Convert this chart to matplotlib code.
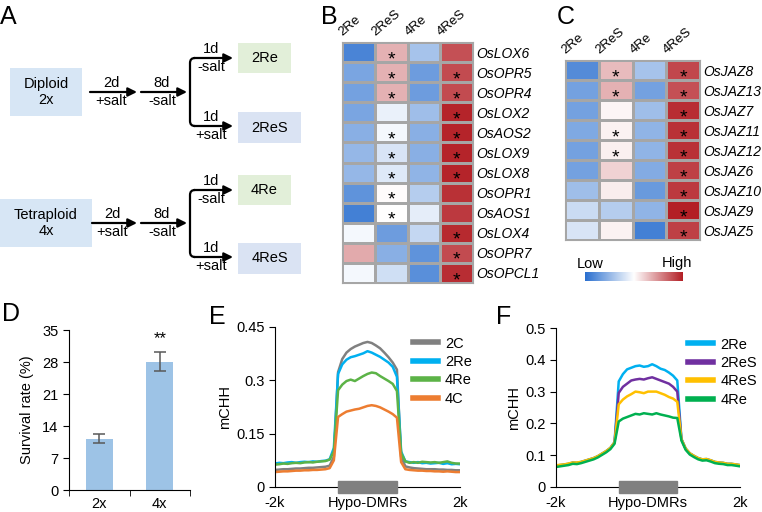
import numpy as np
import matplotlib
matplotlib.use('Agg')
import matplotlib.pyplot as plt
from matplotlib.colors import LinearSegmentedColormap
from matplotlib.patches import Rectangle, PathPatch
from matplotlib.path import Path
from matplotlib.lines import Line2D
import matplotlib.transforms as mtransforms

plt.rcParams['font.family'] = ['Liberation Sans', 'DejaVu Sans']
plt.rcParams['font.size'] = 10.5

W, H = 762, 512

# ---- data ----
conditions = ['2Re', '2ReS', '4Re', '4ReS']

genes_b = ['OsLOX6', 'OsOPR5', 'OsOPR4', 'OsLOX2', 'OsAOS2', 'OsLOX9',
           'OsLOX8', 'OsOPR1', 'OsAOS1', 'OsLOX4', 'OsOPR7', 'OsOPCL1']
expr_b = [[-0.85, 0.35, -0.42, 0.78],
          [-0.62, 0.35, -0.68, 0.80],
          [-0.65, 0.35, -0.68, 0.80],
          [-0.62, -0.10, -0.45, 0.97],
          [-0.55, -0.05, -0.55, 0.97],
          [-0.50, -0.18, -0.55, 0.97],
          [-0.50, -0.15, -0.52, 0.97],
          [-0.75, 0.02, -0.35, 0.92],
          [-0.88, 0.00, -0.12, 0.88],
          [-0.05, -0.68, -0.28, 0.95],
          [0.38, -0.55, -0.75, 0.80],
          [-0.05, -0.22, -0.78, 0.93]]
stars_b = [[0, 1, 0, 0], [0, 1, 0, 1], [0, 1, 0, 1], [0, 0, 0, 1],
           [0, 1, 0, 1], [0, 1, 0, 1], [0, 1, 0, 1], [0, 1, 0, 0],
           [0, 1, 0, 0], [0, 0, 0, 1], [0, 0, 0, 1], [0, 0, 0, 1]]

genes_c = ['OsJAZ8', 'OsJAZ13', 'OsJAZ7', 'OsJAZ11', 'OsJAZ12', 'OsJAZ6',
           'OsJAZ10', 'OsJAZ9', 'OsJAZ5']
expr_c = [[-0.80, 0.30, -0.42, 0.82],
          [-0.65, 0.35, -0.65, 0.78],
          [-0.65, 0.04, -0.45, 0.93],
          [-0.60, 0.06, -0.52, 0.92],
          [-0.65, 0.07, -0.52, 0.92],
          [-0.65, 0.20, -0.58, 0.85],
          [-0.45, 0.08, -0.70, 0.88],
          [-0.25, -0.35, -0.52, 1.00],
          [-0.18, 0.06, -0.88, 0.85]]
stars_c = [[0, 1, 0, 1], [0, 1, 0, 1], [0, 0, 0, 1], [0, 1, 0, 1],
           [0, 1, 0, 1], [0, 0, 0, 1], [0, 0, 0, 1], [0, 0, 0, 1],
           [0, 0, 0, 1]]

ploidy = ['2x', '4x']
survival = [11.2, 28.1]
survival_err = [1.0, 2.1]

# mCHH profiles: 15 bins upstream, 15 bins hypo-DMR body, 15 bins downstream
e_2C = [0.048, 0.049, 0.050, 0.050, 0.051, 0.052, 0.052, 0.053, 0.054, 0.054, 0.055, 0.056, 0.057, 0.060, 0.085,
        0.323, 0.360, 0.378, 0.388, 0.395, 0.400, 0.405, 0.408, 0.405, 0.398, 0.390, 0.378, 0.365, 0.350, 0.330,
        0.085, 0.058, 0.055, 0.053, 0.052, 0.051, 0.050, 0.050, 0.050, 0.049, 0.049, 0.048, 0.048, 0.047, 0.047]
e_2Re = [0.066, 0.068, 0.067, 0.069, 0.070, 0.068, 0.070, 0.071, 0.070, 0.072, 0.071, 0.073, 0.074, 0.078, 0.110,
         0.318, 0.345, 0.358, 0.365, 0.368, 0.372, 0.376, 0.382, 0.378, 0.372, 0.366, 0.358, 0.350, 0.338, 0.310,
         0.100, 0.072, 0.070, 0.068, 0.070, 0.067, 0.068, 0.066, 0.067, 0.068, 0.065, 0.067, 0.064, 0.065, 0.064]
e_4Re = [0.063, 0.064, 0.066, 0.065, 0.067, 0.068, 0.067, 0.069, 0.070, 0.069, 0.071, 0.072, 0.073, 0.077, 0.100,
         0.272, 0.288, 0.298, 0.302, 0.298, 0.305, 0.312, 0.318, 0.322, 0.320, 0.312, 0.305, 0.298, 0.290, 0.270,
         0.095, 0.072, 0.068, 0.070, 0.068, 0.071, 0.070, 0.069, 0.070, 0.068, 0.070, 0.072, 0.068, 0.066, 0.066]
e_4C = [0.042, 0.043, 0.044, 0.044, 0.045, 0.046, 0.046, 0.047, 0.047, 0.048, 0.048, 0.049, 0.050, 0.053, 0.075,
        0.197, 0.205, 0.212, 0.215, 0.218, 0.220, 0.224, 0.228, 0.230, 0.228, 0.224, 0.218, 0.212, 0.205, 0.195,
        0.070, 0.050, 0.048, 0.047, 0.046, 0.046, 0.045, 0.045, 0.044, 0.044, 0.043, 0.044, 0.043, 0.042, 0.042]

f_2Re = [0.067, 0.069, 0.071, 0.073, 0.077, 0.076, 0.079, 0.083, 0.087, 0.091, 0.097, 0.105, 0.113, 0.123, 0.141,
         0.332, 0.355, 0.370, 0.375, 0.380, 0.382, 0.378, 0.380, 0.386, 0.380, 0.372, 0.368, 0.360, 0.350, 0.335,
         0.151, 0.121, 0.106, 0.098, 0.091, 0.087, 0.088, 0.084, 0.079, 0.077, 0.076, 0.073, 0.073, 0.071, 0.069]
f_2ReS = [0.066, 0.068, 0.070, 0.072, 0.076, 0.075, 0.078, 0.082, 0.086, 0.090, 0.096, 0.104, 0.112, 0.122, 0.140,
          0.296, 0.315, 0.325, 0.335, 0.338, 0.340, 0.338, 0.342, 0.345, 0.340, 0.335, 0.330, 0.325, 0.315, 0.300,
          0.150, 0.120, 0.105, 0.097, 0.090, 0.086, 0.087, 0.083, 0.078, 0.076, 0.075, 0.072, 0.072, 0.070, 0.068]
f_4ReS = [0.068, 0.070, 0.071, 0.074, 0.077, 0.077, 0.079, 0.083, 0.087, 0.091, 0.097, 0.105, 0.113, 0.123, 0.140,
          0.260, 0.275, 0.285, 0.292, 0.300, 0.298, 0.295, 0.300, 0.300, 0.300, 0.295, 0.290, 0.283, 0.278, 0.268,
          0.150, 0.121, 0.106, 0.098, 0.091, 0.087, 0.088, 0.084, 0.079, 0.077, 0.076, 0.073, 0.073, 0.071, 0.069]
f_4Re = [0.063, 0.065, 0.067, 0.069, 0.073, 0.072, 0.075, 0.079, 0.083, 0.087, 0.093, 0.101, 0.109, 0.119, 0.136,
         0.206, 0.215, 0.220, 0.225, 0.230, 0.228, 0.232, 0.230, 0.228, 0.232, 0.228, 0.225, 0.222, 0.218, 0.217,
         0.146, 0.117, 0.102, 0.094, 0.087, 0.083, 0.084, 0.080, 0.075, 0.073, 0.072, 0.069, 0.069, 0.067, 0.065]


def px(l, t, r, b):
    # pixel box -> figure fraction rect
    return [l / W, 1 - b / H, (r - l) / W, (b - t) / H]


fig = plt.figure(figsize=(W / 100, H / 100), dpi=100)

# overlay for schematic, panel letters, colorbar labels
ov = fig.add_axes([0, 0, 1, 1])
ov.set_xlim(0, W)
ov.set_ylim(H, 0)
ov.axis('off')

for letter, x, y in [('A', 0, 17), ('B', 321, 17), ('C', 557, 17),
                     ('D', 2, 314), ('E', 209, 317), ('F', 496, 317)]:
    ov.text(x, y, letter, fontsize=18, ha='left', va='center')

# ---- panel A schematic ----
blue_box = '#d7e6f5'
green_box = '#e2efd9'
lilac_box = '#dae3f3'


def box(x0, y0, x1, y1, color, label):
    ov.add_patch(Rectangle((x0, y0), x1 - x0, y1 - y0, color=color, lw=0))
    ov.text((x0 + x1) / 2, (y0 + y1) / 2, label, ha='center', va='center',
            linespacing=1.15)


def arrow(x0, x1, y, top, bottom):
    ov.annotate('', xy=(x1, y), xytext=(x0, y),
                arrowprops=dict(arrowstyle='-|>', color='black', lw=1.6,
                                mutation_scale=13, shrinkA=0, shrinkB=0))
    xm = (x0 + x1) / 2 - 2
    ov.text(xm, y - 2, top, ha='center', va='bottom')
    ov.text(xm, y + 2, bottom, ha='center', va='top')


def branch(x, yu, yl, x1):
    r = 5
    verts = [(x + r, yu), (x, yu), (x, yu + r), (x, yl - r), (x, yl), (x + r, yl)]
    codes = [Path.MOVETO, Path.CURVE3, Path.CURVE3, Path.LINETO, Path.CURVE3, Path.CURVE3]
    ov.add_patch(PathPatch(Path(verts, codes), fill=False, lw=1.6, color='black'))
    arrow(x + r - 1, x1, yu, '1d', '-salt')
    arrow(x + r - 1, x1, yl, '1d', '+salt')


for yc, name, lab, ur, bx0, bx1 in [(92, 'Diploid\n2x', '2', (58, 126), 10, 82),
                                    (223, 'Tetraploid\n4x', '4', (190, 257), 0, 92)]:
    box(bx0, yc - 24, bx1, yc + 24, blue_box, name)
    arrow(90 if lab == '2' else 92, 137, yc, '2d', '+salt')
    arrow(141, 187, yc, '8d', '-salt')
    branch(190, ur[0], ur[1], 233)
    box(238, ur[0] - 15, 291, ur[0] + 15, green_box, lab + 'Re')
    box(238, ur[1] - 14, 301, ur[1] + 17, lilac_box, lab + 'ReS')

# ---- heatmaps B and C ----
cmap = LinearSegmentedColormap.from_list('lowhigh', ['#2a6fcf', '#ffffff', '#b31f25'])


def heatmap(rect, values, stars, genes):
    ax = fig.add_axes(rect)
    vals = np.array(values)
    ax.pcolormesh(vals, cmap=cmap, vmin=-1, vmax=1, edgecolors='#a6a6a6', linewidth=0.8)
    ax.set_xlim(0, len(conditions))
    ax.set_ylim(len(genes), 0)
    for i in range(len(genes)):
        for j in range(len(conditions)):
            if stars[i][j]:
                ax.text(j + 0.5, i + 1.1, '*', ha='center', va='baseline', fontsize=14)
    for j, c in enumerate(conditions):
        ax.text(j + 0.08, -0.2, c, rotation=40, ha='left', va='bottom',
                rotation_mode='anchor', fontsize=9.5)
    ax.set_xticks([])
    ax.yaxis.tick_right()
    ax.set_yticks(np.arange(len(genes)) + 0.5)
    ax.set_yticklabels(genes, style='italic', fontsize=10)
    ax.tick_params(axis='y', length=0, pad=2)
    for s in ax.spines.values():
        s.set_color('#a6a6a6')
    return ax


heatmap(px(342, 42, 473, 283), expr_b, stars_b, genes_b)
heatmap(px(565, 60, 700, 240), expr_c, stars_c, genes_c)

cb = fig.add_axes(px(585, 272, 683, 281))
cb.imshow(np.linspace(-1, 1, 256)[None, :], cmap=cmap, aspect='auto')
cb.axis('off')
ov.text(590, 264, 'Low', ha='center', va='center')
ov.text(677, 263, 'High', ha='center', va='center')

# ---- panel D ----
axd = fig.add_axes(px(69, 330, 190, 490))
axd.bar(range(len(ploidy)), survival, width=0.45, color='#9dc3e6')
axd.errorbar(range(len(ploidy)), survival, yerr=survival_err, fmt='none',
             ecolor='#595959', elinewidth=1.1, capsize=4, capthick=1.1)
axd.text(1, survival[1] + survival_err[1] + 1.2, '**', ha='center', va='bottom', fontsize=12)
axd.set_xlim(-0.5, 1.5)
axd.set_ylim(0, 35)
axd.set_yticks([0, 7, 14, 21, 28, 35])
axd.set_xticks(range(len(ploidy)))
axd.set_xticklabels(ploidy)
axd.set_xticks([-0.5, 0.5, 1.5], minor=True)
axd.tick_params(axis='x', which='major', length=0, pad=5)
axd.tick_params(axis='x', which='minor', length=4, direction='out')
axd.tick_params(axis='y', length=4, direction='out')
axd.set_ylabel('Survival rate (%)', labelpad=6)
for s in ['top', 'right']:
    axd.spines[s].set_visible(False)


# ---- panels E and F ----
def profile(rect, series, ymax, yticks, leg_anchor):
    ax = fig.add_axes(rect)
    x = np.arange(len(series[0][1]))
    for name, ys, col in series:
        ax.plot(x, ys, color=col, lw=1.8)
    ax.set_xlim(0, len(x) - 1)
    ax.set_ylim(0, ymax)
    ax.set_yticks(yticks)
    ax.set_yticklabels(['0' if v == 0 else f'{v:g}' for v in yticks])
    ax.set_xticks([0, (len(x) - 1) / 2, len(x) - 1])
    ax.set_xticklabels(['-2k', 'Hypo-DMRs', '2k'])
    ax.tick_params(axis='x', length=0, pad=6.5)
    ax.tick_params(axis='y', length=4, direction='out')
    ax.set_ylabel('mCHH', labelpad=3)
    for s in ['top', 'right']:
        ax.spines[s].set_visible(False)
    trans = mtransforms.blended_transform_factory(ax.transData, ax.transAxes)
    ax.add_patch(Rectangle((15, -0.037), 14, 0.075, transform=trans,
                           color='#808080', clip_on=False, zorder=5))
    handles = [Line2D([], [], color=col, lw=4) for _, _, col in series]
    ax.legend(handles, [n for n, _, _ in series], loc='upper left',
              bbox_to_anchor=leg_anchor, frameon=False, handlelength=1.7,
              handletextpad=0.5, labelspacing=0.3, borderaxespad=0, borderpad=0)
    return ax


profile(px(275, 327, 460, 487),
        [('2C', e_2C, '#808080'), ('2Re', e_2Re, '#00b0f0'),
         ('4Re', e_4Re, '#5cb347'), ('4C', e_4C, '#ed7d31')],
        0.45, [0, 0.15, 0.3, 0.45], (0.745, 0.94))

profile(px(556, 328, 740, 487),
        [('2Re', f_2Re, '#00b0f0'), ('2ReS', f_2ReS, '#7030a0'),
         ('4ReS', f_4ReS, '#ffc000'), ('4Re', f_4Re, '#00b050')],
        0.5, [0, 0.1, 0.2, 0.3, 0.4, 0.5], (0.72, 0.94))

fig.savefig('out.png', dpi=100)
